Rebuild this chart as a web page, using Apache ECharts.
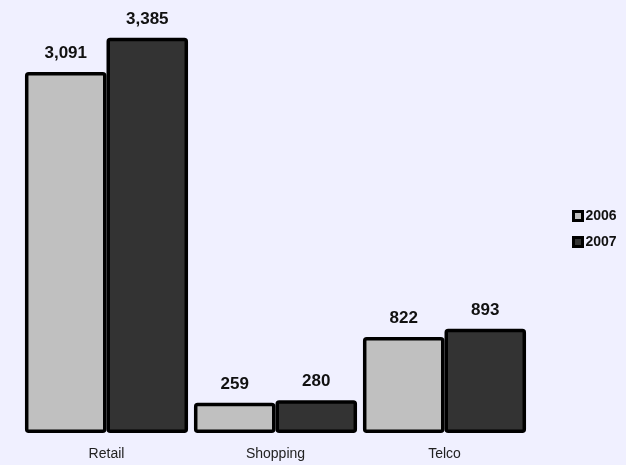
<!DOCTYPE html>
<html><head><meta charset="utf-8">
<script src="https://cdn.jsdelivr.net/npm/echarts@6/dist/echarts.min.js"></script>
<style>html,body{margin:0;padding:0;background:#F0F0FF;}#c{width:626px;height:465px;}</style>
</head><body><div id="c"></div>
<script>
const categories = ['Retail', 'Shopping', 'Telco'];
const seriesNames = ['2006', '2007'];
const values2006 = [3091, 259, 822];
const values2007 = [3385, 280, 893];
const colors = ['#C0C0C0', '#333333'];

const chart = echarts.init(document.getElementById('c'));
const fmt = v => v.value.toLocaleString('en-US');
chart.setOption({
  backgroundColor: '#F0F0FF',
  animation: false,
  legend: {
    orient: 'vertical', left: 572, top: 209, padding: 0,
    itemWidth: 9, itemHeight: 9, itemGap: 12,
    icon: 'rect',
    textStyle: {fontFamily: 'Liberation Sans, Arial', fontWeight: 'bold', fontSize: 14, color: '#111', padding: [0,0,0,-2]},
    data: seriesNames.map((n, i) => ({name: n, itemStyle: {color: colors[i], borderColor: '#000', borderWidth: 3}}))
  },
  grid: {left: 22, right: 97, top: 36, bottom: 32, containLabel: false},
  xAxis: {
    type: 'category', data: categories,
    axisLine: {show: false}, axisTick: {show: false},
    axisLabel: {fontFamily: 'Liberation Sans, Arial', fontSize: 14, color: '#222', margin: 14}
  },
  yAxis: {type: 'value', min: 0, max: 3400, show: false, splitLine: {show: false}},
  series: [values2006, values2007].map((vals, i) => ({
    name: seriesNames[i], type: 'bar', data: vals,
    barGap: '0%', barCategoryGap: '3.5%',
    itemStyle: {color: colors[i], borderColor: '#000', borderWidth: 3.5, borderRadius: 2},
    label: {show: true, position: 'top', distance: 10, formatter: fmt,
      fontFamily: 'Liberation Sans, Arial', fontWeight: 'bold', fontSize: 17, color: '#111'}
  }))
});
</script></body></html>
